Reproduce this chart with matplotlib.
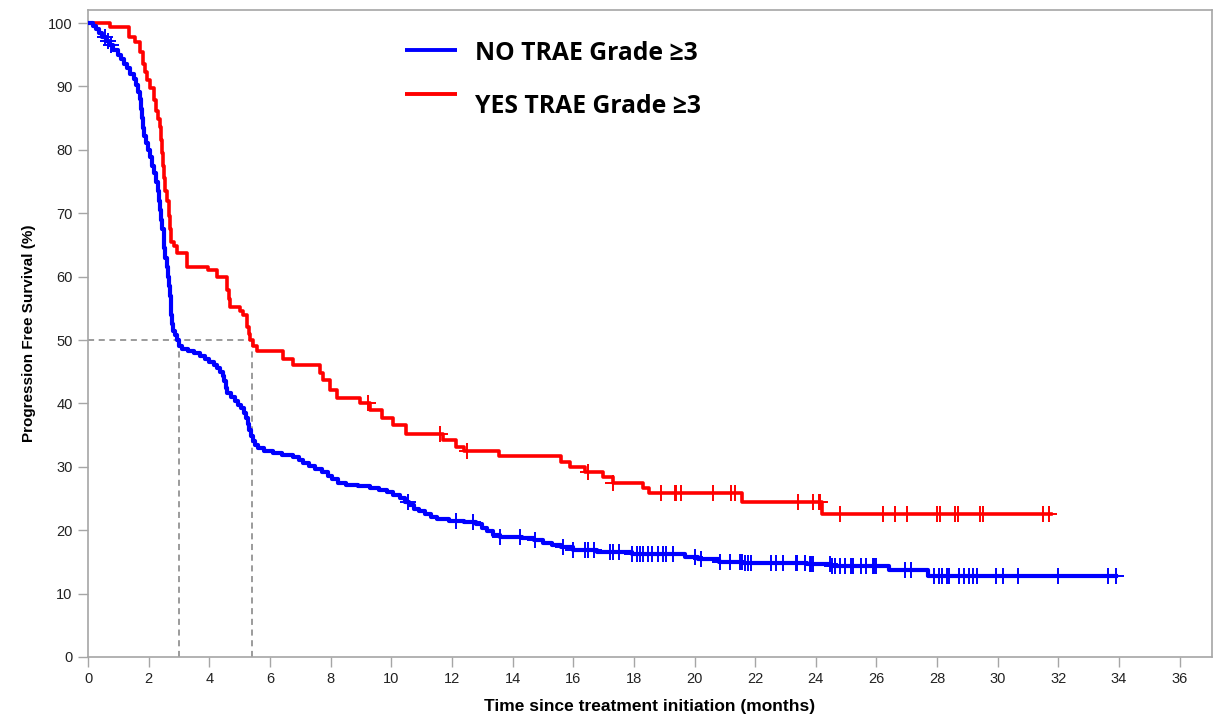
import numpy as np
import matplotlib.pyplot as plt

# Kaplan-Meier curves (time in months, survival in %)
no_t = [0.00, 0.15, 0.25, 0.35, 0.45, 0.58, 0.70, 0.84, 1.00, 1.10, 1.20, 1.30,
        1.40, 1.50, 1.58, 1.65, 1.70, 1.74, 1.77, 1.80, 1.85, 1.92, 1.98, 2.05,
        2.12, 2.18, 2.25, 2.30, 2.33, 2.38, 2.42, 2.45, 2.49, 2.52, 2.55, 2.60,
        2.65, 2.68, 2.71, 2.73, 2.75, 2.77, 2.80, 2.88, 2.94, 3.00, 3.10, 3.30,
        3.50, 3.70, 3.85, 4.00, 4.15, 4.25, 4.35, 4.45, 4.50, 4.54, 4.58, 4.70,
        4.85, 4.95, 5.05, 5.15, 5.22, 5.27, 5.31, 5.36, 5.44, 5.52, 5.62, 5.80,
        6.10, 6.40, 6.75, 6.95, 7.10, 7.30, 7.50, 7.70, 7.90, 8.05, 8.25, 8.50,
        8.90, 9.30, 9.60, 9.85, 10.05, 10.28, 10.45, 10.60, 10.75, 10.90, 11.10,
        11.30, 11.50, 11.90, 12.40, 12.80, 13.00, 13.15, 13.35, 13.60, 14.30,
        14.70, 15.00, 15.30, 15.60, 16.00, 16.80, 17.95, 19.70, 20.10, 20.80,
        21.60, 23.70, 24.50, 26.40, 27.70]
no_s = [100, 99.5, 99.0, 98.4, 97.8, 97.2, 96.6, 95.8, 95.0, 94.3, 93.6, 92.9,
        92.0, 91.2, 90.3, 89.2, 88.0, 86.5, 85.0, 83.5, 82.2, 81.0, 80.0, 78.8,
        77.5, 76.3, 75.0, 73.5, 72.0, 70.5, 69.0, 67.5, 66.0, 64.5, 63.0, 61.5,
        60.0, 58.5, 57.0, 55.5, 54.0, 52.5, 51.5, 50.8, 50.0, 49.0, 48.6, 48.3,
        48.0, 47.5, 47.0, 46.6, 46.1, 45.6, 45.0, 44.3, 43.5, 42.5, 41.6, 41.0,
        40.4, 39.8, 39.2, 38.5, 37.7, 36.8, 35.8, 34.8, 34.0, 33.4, 32.9, 32.5,
        32.1, 31.9, 31.6, 31.1, 30.6, 30.1, 29.7, 29.2, 28.6, 28.0, 27.5, 27.2,
        27.0, 26.7, 26.4, 26.0, 25.5, 25.0, 24.5, 24.0, 23.4, 23.0, 22.5,
        22.1, 21.8, 21.5, 21.3, 20.9, 20.3, 19.8, 19.3, 18.9, 18.7,
        18.4, 18.0, 17.7, 17.4, 16.9, 16.6, 16.2, 15.8, 15.4, 15.0,
        14.8, 14.6, 14.3, 13.8, 12.8]
no_end = 33.9
no_cens = [0.55, 0.65, 0.75, 10.55, 12.15, 12.7, 13.6, 14.25, 14.75, 15.65, 16.0,
           16.4, 16.5, 16.7, 17.2, 17.3, 17.5, 17.95, 18.1, 18.2, 18.3, 18.45,
           18.6, 18.8, 18.95, 19.05, 19.3, 20.0, 20.2, 20.84, 21.17, 21.5, 21.55,
           21.66, 21.76, 21.86, 22.51, 22.68, 22.91, 23.34, 23.38, 23.65, 23.8,
           23.85, 23.9, 24.46, 24.52, 24.62, 24.79, 24.95, 25.15, 25.21, 25.48,
           25.64, 25.87, 25.92, 25.97, 26.94, 27.15, 27.91, 28.07, 28.17, 28.34,
           28.4, 28.73, 28.9, 29.05, 29.19, 29.32, 29.95, 30.18, 30.67, 32.0,
           33.63, 33.9]

yes_t = [0.00, 0.74, 1.34, 1.56, 1.72, 1.80, 1.88, 1.95, 2.06, 2.16, 2.24, 2.30,
         2.38, 2.42, 2.45, 2.48, 2.51, 2.55, 2.62, 2.66, 2.70, 2.75, 2.85, 2.93,
         3.26, 3.96, 4.25, 4.58, 4.65, 4.69, 5.00, 5.12, 5.24, 5.30, 5.35, 5.45,
         5.57, 6.44, 6.76, 7.65, 7.75, 7.98, 8.20, 8.96, 9.30, 9.70, 10.05, 10.50,
         11.70, 12.15, 12.40, 13.55, 15.60, 15.90, 16.40, 16.97, 17.30, 18.30,
         18.50, 21.55, 24.20]
yes_s = [100, 99.4, 97.8, 97.0, 95.5, 93.5, 92.3, 91.0, 89.7, 87.8, 86.2, 84.8,
         83.6, 81.5, 79.5, 77.5, 75.5, 73.5, 72.0, 69.5, 67.5, 65.5, 64.8, 63.7,
         61.5, 61.0, 60.0, 57.9, 56.5, 55.2, 54.6, 54.0, 52.1, 51.0, 50.0, 49.0,
         48.3, 47.0, 46.0, 44.8, 43.7, 42.1, 40.8, 40.0, 39.0, 37.7, 36.6, 35.1,
         34.2, 33.1, 32.5, 31.7, 30.8, 30.0, 29.2, 28.4, 27.4, 26.6,
         25.8, 24.4, 22.6]
yes_end = 31.75
yes_cens = [9.23, 11.6, 12.5, 16.5, 17.3, 18.9, 19.35, 19.4, 19.55, 20.6, 21.2,
            21.35, 23.4, 23.9, 24.1, 24.15, 24.8, 26.2, 26.6, 27.0, 28.0, 28.1,
            28.6, 28.7, 29.4, 29.5, 31.5, 31.7]

median_times = [3.0, 5.4]
labels = ['NO TRAE Grade \u22653', 'YES TRAE Grade \u22653']
colors = ['#0000ff', '#ff0000']

plt.rcParams['font.family'] = ['Liberation Sans', 'DejaVu Sans']

fig = plt.figure(figsize=(12.14, 7.17), dpi=100)
ax = fig.add_axes([0.0725, 0.0837, 0.9255, 0.9023])

gray = '#a6a6a6'


def draw_curve(t, s, end, cens, color, lw):
    tt = np.append(t, end)
    ss = np.append(s, s[-1])
    ax.step(tt, ss, where='post', color=color, lw=lw, zorder=3)
    idx = np.searchsorted(t, cens, side='right') - 1
    cy = np.array(s)[idx]
    ax.plot(cens, cy, ls='none', marker='+', ms=11, mew=1.4, color=color, zorder=4)


# median reference lines
for m in median_times:
    ax.plot([m, m], [0, 50], color='#808080', lw=1.1, ls=(0, (4, 3)), zorder=2)
ax.plot([0, max(median_times)], [50, 50], color='#808080', lw=1.1, ls=(0, (4, 3)), zorder=2)

draw_curve(yes_t, yes_s, yes_end, yes_cens, colors[1], 2.6)
draw_curve(no_t, no_s, no_end, no_cens, colors[0], 3.0)

ax.set_xlim(0, 37.05)
ax.set_ylim(0, 102.05)
ax.set_xticks(np.arange(0, 37, 2))
ax.set_yticks(np.arange(0, 101, 10))
ax.tick_params(direction='out', length=7, width=1, color=gray, labelsize=10.5,
               labelcolor='#222222', pad=4)
for sp in ax.spines.values():
    sp.set_color(gray)
    sp.set_linewidth(1.2)

ax.set_xlabel('Time since treatment initiation (months)', fontsize=12.5,
              fontweight='bold', labelpad=9)
ax.set_ylabel('Progression Free Survival (%)', fontsize=11, fontweight='bold',
              labelpad=9)

# legend drawn by hand (lines and labels are not vertically aligned in the original)
line_y = [0.938, 0.870]
text_y = [0.933, 0.851]
for ly, ty, lab, col in zip(line_y, text_y, labels, colors):
    ax.plot([0.282, 0.328], [ly, ly], color=col, lw=2.8, transform=ax.transAxes,
            solid_capstyle='butt')
    ax.text(0.344, ty, lab, transform=ax.transAxes, va='center', ha='left',
            family=['Open Sans', 'DejaVu Sans'], fontweight='bold', fontsize=17.8)

fig.savefig('out.png', dpi=100)
